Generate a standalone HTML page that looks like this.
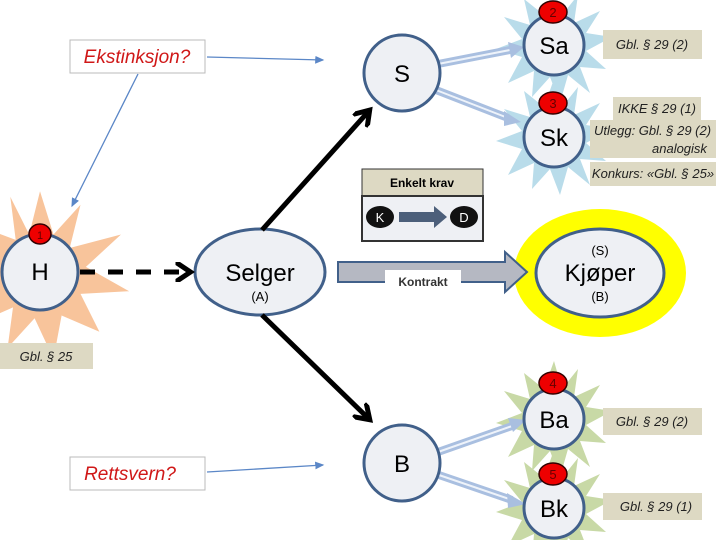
<!DOCTYPE html>
<html><head><meta charset="utf-8"><style>
body{margin:0;background:#fff}
svg{display:block;font-family:"Liberation Sans",sans-serif}
.c{fill:#eef0f4;stroke:#41608a;stroke-width:3}
.t{fill:#ddd9c3}
.it{font-style:italic;font-size:13px;fill:#222}
</style></head><body>
<svg width="720" height="540" viewBox="0 0 720 540">
<defs>
<marker id="bk" markerWidth="4" markerHeight="4" refX="2.5" refY="2" orient="auto"><path d="M0,0 L3,2 L0,4" fill="none" stroke="#000" stroke-width="1"/></marker>
<marker id="bl" markerWidth="8" markerHeight="8" refX="6" refY="4" orient="auto"><path d="M0,1 L7,4 L0,7z" fill="#5b87c7"/></marker>
</defs>
<!-- stars -->
<g fill="#b9dcea">
<polygon id="st" points="0,-58 8,-30 24,-50 20,-22 46,-34 32,-12 58,-8 32,6 52,24 26,22 36,48 14,30 6,58 -4,32 -22,52 -20,26 -46,38 -32,12 -58,4 -32,-6 -50,-28 -24,-20 -30,-46 -10,-30" transform="translate(554,45)"/>
<polygon points="0,-58 8,-30 24,-50 20,-22 46,-34 32,-12 58,-8 32,6 52,24 26,22 36,48 14,30 6,58 -4,32 -22,52 -20,26 -46,38 -32,12 -58,4 -32,-6 -50,-28 -24,-20 -30,-46 -10,-30" transform="translate(554,137)"/>
</g>
<g fill="#c8d9a6">
<polygon points="0,-58 8,-30 24,-50 20,-22 46,-34 32,-12 58,-8 32,6 52,24 26,22 36,48 14,30 6,58 -4,32 -22,52 -20,26 -46,38 -32,12 -58,4 -32,-6 -50,-28 -24,-20 -30,-46 -10,-30" transform="translate(554,419)"/>
<polygon points="0,-58 8,-30 24,-50 20,-22 46,-34 32,-12 58,-8 32,6 52,24 26,22 36,48 14,30 6,58 -4,32 -22,52 -20,26 -46,38 -32,12 -58,4 -32,-6 -50,-28 -24,-20 -30,-46 -10,-30" transform="translate(554,508)"/>
</g>
<polygon fill="#f8c49b" transform="translate(40,275) scale(1.35)" points="0,-62 10,-30 30,-52 22,-20 60,-30 34,-6 66,12 30,14 44,42 16,30 10,62 -4,32 -24,54 -20,24 -52,38 -32,10 -62,0 -32,-12 -50,-38 -18,-26 -22,-58 -8,-30"/>
<!-- blue double arrows -->
<g stroke="#a9bfe0" stroke-width="8" fill="none">
<line x1="438" y1="64" x2="510" y2="50"/><line x1="436" y1="90" x2="508" y2="118"/>
<line x1="438" y1="452" x2="512" y2="426"/><line x1="436" y1="474" x2="512" y2="500"/>
</g>
<g stroke="#eef3fa" stroke-width="2" fill="none">
<line x1="438" y1="64" x2="510" y2="50"/><line x1="436" y1="90" x2="508" y2="118"/>
<line x1="438" y1="452" x2="512" y2="426"/><line x1="436" y1="474" x2="512" y2="500"/>
</g>
<g fill="#a9bfe0"><polygon points="508,42 524,47 511,58"/><polygon points="504,111 521,122 504,126"/><polygon points="508,418 526,420 513,432"/><polygon points="507,493 526,504 508,508"/></g>
<!-- circles -->
<circle class="c" cx="402" cy="73" r="38"/><text x="402" y="82" font-size="24" text-anchor="middle">S</text>
<circle class="c" cx="554" cy="45" r="30"/><text x="554" y="54" font-size="24" text-anchor="middle">Sa</text>
<circle class="c" cx="554" cy="137" r="30"/><text x="554" y="146" font-size="24" text-anchor="middle">Sk</text>
<circle class="c" cx="402" cy="463" r="38"/><text x="402" y="472" font-size="24" text-anchor="middle">B</text>
<circle class="c" cx="554" cy="419" r="30"/><text x="554" y="428" font-size="24" text-anchor="middle">Ba</text>
<circle class="c" cx="554" cy="508" r="30"/><text x="554" y="517" font-size="24" text-anchor="middle">Bk</text>
<circle class="c" cx="40" cy="272" r="38"/><text x="40" y="280" font-size="24" text-anchor="middle">H</text>
<!-- badges -->
<g fill="#e00" stroke="#300" stroke-width="1.5">
<ellipse cx="553" cy="12" rx="14" ry="11"/><ellipse cx="553" cy="103" rx="14" ry="11"/>
<ellipse cx="553" cy="383" rx="14" ry="11"/><ellipse cx="553" cy="474" rx="14" ry="11"/>
<ellipse cx="40" cy="234" rx="11" ry="10"/>
</g>
<g font-size="13" text-anchor="middle" fill="#600">
<text x="553" y="17">2</text><text x="553" y="108">3</text><text x="553" y="388">4</text><text x="553" y="479">5</text><text x="40" y="239" font-size="11">1</text>
</g>
<!-- text boxes -->
<rect class="t" x="603" y="30" width="99" height="29"/><text class="it" x="652" y="49" text-anchor="middle">Gbl. § 29 (2)</text>
<rect class="t" x="613" y="97" width="88" height="23"/><text class="it" x="657" y="113" text-anchor="middle" font-size="12">IKKE § 29 (1)</text>
<rect class="t" x="590" y="120" width="126" height="38"/><text class="it" x="594" y="135" font-size="12">Utlegg:  Gbl. § 29 (2)</text><text class="it" x="652" y="153" font-size="12">analogisk</text>
<rect class="t" x="590" y="162" width="126" height="24"/><text class="it" x="653" y="178" font-size="12" text-anchor="middle">Konkurs: «Gbl. § 25»</text>
<rect class="t" x="603" y="408" width="99" height="27"/><text class="it" x="652" y="426" text-anchor="middle">Gbl. § 29 (2)</text>
<rect class="t" x="603" y="493" width="99" height="27"/><text class="it" x="656" y="511" text-anchor="middle">Gbl. § 29 (1)</text>
<rect class="t" x="0" y="343" width="93" height="26"/><text class="it" x="46" y="361" text-anchor="middle">Gbl. § 25</text>
<!-- enkelt krav -->
<rect x="362" y="169" width="121" height="27" fill="#ddd9c3" stroke="#333" stroke-width="1"/>
<text x="422" y="187" font-size="12" font-weight="bold" text-anchor="middle">Enkelt krav</text>
<rect x="362" y="196" width="121" height="45" fill="#eef0f4" stroke="#333" stroke-width="2"/>
<ellipse cx="380" cy="217" rx="14" ry="11" fill="#111"/><text x="380" y="222" fill="#fff" font-size="13" text-anchor="middle">K</text>
<ellipse cx="464" cy="217" rx="14" ry="11" fill="#111"/><text x="464" y="222" fill="#fff" font-size="13" text-anchor="middle">D</text>
<polygon points="399,212 434,212 434,206 447,217 434,228 434,222 399,222" fill="#4c5f7a"/>
<!-- kjøper -->
<ellipse cx="600" cy="273" rx="86" ry="64" fill="#ffff00"/>
<ellipse class="c" cx="600" cy="273" rx="64" ry="44"/>
<text x="600" y="255" font-size="13" text-anchor="middle">(S)</text>
<text x="600" y="281" font-size="24" text-anchor="middle">Kjøper</text>
<text x="600" y="301" font-size="13" text-anchor="middle">(B)</text>
<!-- kontrakt arrow -->
<polygon points="338,262 505,262 505,252 527,272 505,292 505,282 338,282" fill="#b5b8c2" stroke="#41608a" stroke-width="2"/>
<rect x="385" y="270" width="76" height="22" fill="#fff"/>
<text x="423" y="286" font-size="12" font-weight="bold" fill="#333" text-anchor="middle">Kontrakt</text>
<!-- selger -->
<ellipse class="c" cx="260" cy="272" rx="65" ry="43"/>
<text x="260" y="281" font-size="24" text-anchor="middle">Selger</text>
<text x="260" y="301" font-size="13" text-anchor="middle">(A)</text>
<!-- black arrows -->
<line x1="262" y1="230" x2="368" y2="112" stroke="#000" stroke-width="5" marker-end="url(#bk)"/>
<line x1="262" y1="315" x2="368" y2="418" stroke="#000" stroke-width="5" marker-end="url(#bk)"/>
<line x1="80" y1="272" x2="188" y2="272" stroke="#000" stroke-width="5" stroke-dasharray="15,13" marker-end="url(#bk)"/>
<!-- question boxes -->
<rect x="70" y="40" width="135" height="33" fill="#fff" stroke="#bbb"/>
<text x="137" y="63" font-size="19" font-style="italic" fill="#d01818" text-anchor="middle">Ekstinksjon?</text>
<rect x="70" y="457" width="135" height="33" fill="#fff" stroke="#bbb"/>
<text x="130" y="480" font-size="19" font-style="italic" fill="#d01818" text-anchor="middle">Rettsvern?</text>
<g stroke="#5b87c7" stroke-width="1.3" marker-end="url(#bl)">
<line x1="207" y1="57" x2="323" y2="60"/>
<line x1="138" y1="74" x2="72" y2="206"/>
<line x1="207" y1="472" x2="323" y2="465"/>
</g>
</svg>
</body></html>
